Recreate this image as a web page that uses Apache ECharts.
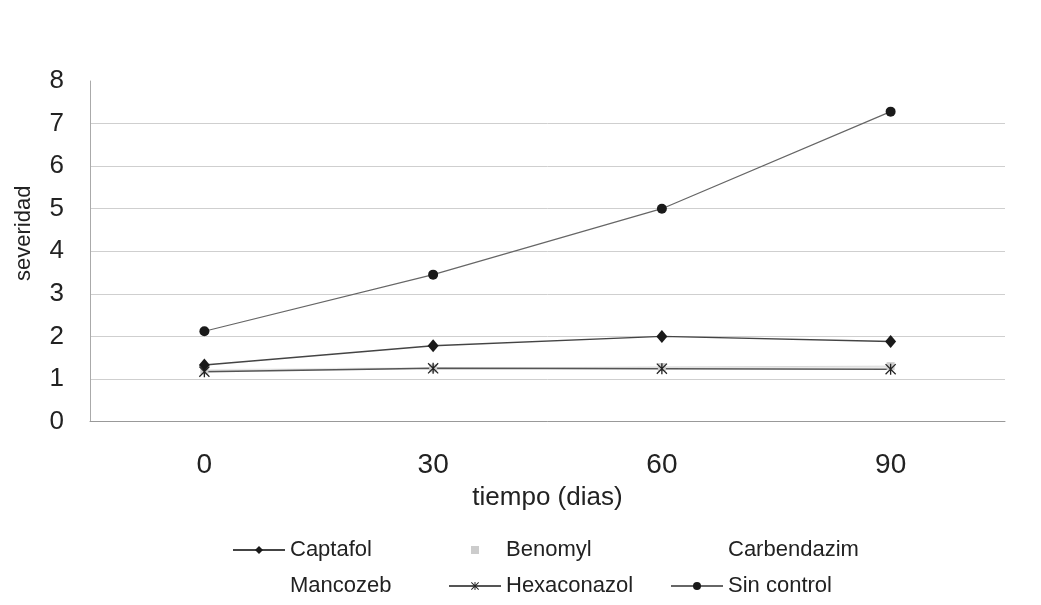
<!DOCTYPE html>
<html>
<head>
<meta charset="utf-8">
<script src="https://cdn.jsdelivr.net/npm/echarts@6/dist/echarts.min.js"></script>
<style>
  html, body { margin: 0; padding: 0; background: #ffffff; }
  #chart { width: 1041px; height: 605px; }
</style>
</head>
<body>
<div id="chart"></div>
<script>
var dias = ["0", "30", "60", "90"];
var yTicks = [0, 1, 2, 3, 4, 5, 6, 7, 8];

var captafol = [1.33, 1.78, 2.0, 1.88];
var benomyl = [1.2, 1.25, 1.28, 1.3];
var carbendazim = [1.22, 1.27, 1.27, 1.28];
var mancozeb = [1.18, 1.26, 1.27, 1.27];
var hexaconazol = [1.17, 1.25, 1.24, 1.23];
var sinControl = [2.12, 3.45, 5.0, 7.28];

var font = "'Liberation Sans', Arial, sans-serif";
// asterisco: barra vertical + X
var asterisco = "path://M4.4 0L5.6 0L5.6 10L4.4 10Z M0 0.8L0.8 0L10 9.2L9.2 10Z M9.2 0L10 0.8L0.8 10L0 9.2Z";

function leyenda(nombre, left, top, extra) {
    var item = { name: nombre };
    for (var k in extra) item[k] = extra[k];
    return {
        data: [item],
        left: left,
        top: top,
        padding: 0,
        itemWidth: 52,
        itemHeight: 10,
        textStyle: { fontFamily: font, fontSize: 22, color: "#222" }
    };
}

var chart = echarts.init(document.getElementById("chart"));

chart.setOption({
    backgroundColor: "#ffffff",
    animation: false,
    grid: { left: 90, right: 36, top: 81, bottom: 183.5 },
    xAxis: {
        type: "category",
        data: dias,
        boundaryGap: true,
        name: "tiempo (dias)",
        nameLocation: "middle",
        nameGap: 55,
        nameTextStyle: { fontFamily: font, fontSize: 26, color: "#222" },
        axisLine: { lineStyle: { color: "#999", width: 1 } },
        axisTick: { show: false },
        axisLabel: { margin: 30, fontFamily: font, fontSize: 28, color: "#222" }
    },
    yAxis: {
        type: "value",
        min: yTicks[0],
        max: yTicks[yTicks.length - 1],
        interval: 1,
        name: "severidad",
        nameLocation: "middle",
        nameGap: 55,
        nameTextStyle: { fontFamily: font, fontSize: 22, color: "#222", padding: [0, 0, 0, 36] },
        axisLine: { show: true, lineStyle: { color: "#aaa", width: 1 } },
        axisTick: { show: false },
        axisLabel: { margin: 26, fontFamily: font, fontSize: 26, color: "#222" },
        splitLine: {
            lineStyle: {
                color: ["#cfcfcf", "#cfcfcf", "#cfcfcf", "#cfcfcf", "#cfcfcf", "#cfcfcf", "#cfcfcf", "#cfcfcf", "rgba(0,0,0,0)"],
                width: 1
            }
        }
    },
    legend: [
        leyenda("Captafol", 232, 539, {}),
        leyenda("Benomyl", 448, 539, { lineStyle: { opacity: 0 } }),
        leyenda("Carbendazim", 670, 539, { itemStyle: { opacity: 0 }, lineStyle: { opacity: 0 } }),
        leyenda("Mancozeb", 232, 575, { itemStyle: { opacity: 0 }, lineStyle: { opacity: 0 } }),
        leyenda("Hexaconazol", 448, 575, {}),
        leyenda("Sin control", 670, 575, {})
    ],
    series: [
        {
            name: "Carbendazim", type: "line", data: carbendazim,
            symbol: "none", itemStyle: { color: "#f0f0f0" },
            lineStyle: { color: "#eeeeee", width: 1 }
        },
        {
            name: "Mancozeb", type: "line", data: mancozeb,
            symbol: "none", itemStyle: { color: "#eeeeee" },
            lineStyle: { color: "#e8e8e8", width: 1 }
        },
        {
            name: "Benomyl", type: "line", data: benomyl,
            symbol: "rect", symbolSize: 8,
            itemStyle: { color: "#cccccc" },
            lineStyle: { color: "#d8d8d8", width: 1 }
        },
        {
            name: "Hexaconazol", type: "line", data: hexaconazol,
            symbol: asterisco, symbolSize: 11,
            itemStyle: { color: "#222" },
            lineStyle: { color: "#555", width: 1.5 }
        },
        {
            name: "Captafol", type: "line", data: captafol,
            symbol: "diamond", symbolSize: [11, 13],
            itemStyle: { color: "#1a1a1a" },
            lineStyle: { color: "#444", width: 1.5 }
        },
        {
            name: "Sin control", type: "line", data: sinControl,
            symbol: "circle", symbolSize: 10,
            itemStyle: { color: "#1a1a1a" },
            lineStyle: { color: "#666", width: 1.2 }
        }
    ]
});
</script>
</body>
</html>
